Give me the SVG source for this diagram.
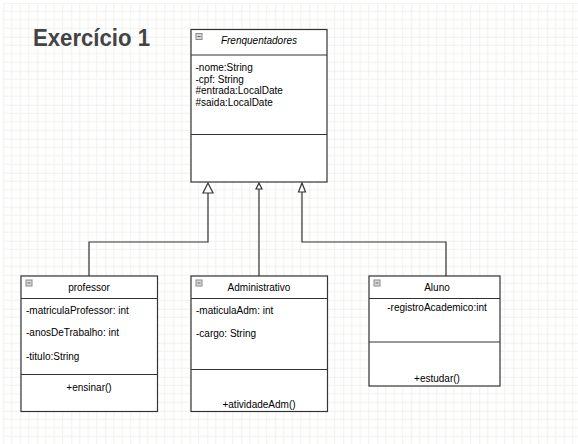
<svg xmlns="http://www.w3.org/2000/svg" width="578" height="444" viewBox="0 0 578 444">
<style>
.box{fill:#fff;stroke:#333;stroke-width:1.2}
.sep{stroke:#333;stroke-width:1.2}
.t{font-family:"Liberation Sans",Arial,sans-serif;font-size:10px;fill:#000}
.c{text-anchor:middle}
.edge{fill:none;stroke:#333;stroke-width:1.2}
.tri{fill:#fff;stroke:#333;stroke-width:1.2}
.ico{fill:#d9d9d9;stroke:#8a8a8a;stroke-width:1}
.icl{stroke:#666;stroke-width:1}
</style>
<defs>
<pattern id="grid" patternUnits="userSpaceOnUse" x="3.3" y="2.7" width="34" height="34">
<path d="M8.5 0V34M17 0V34M25.5 0V34M0 8.5H34M0 17H34M0 25.5H34" stroke="#f1f1ee" stroke-width="1" fill="none"/>
<path d="M0 0V34M0 0H34" stroke="#e2e2dd" stroke-width="1" fill="none"/>
</pattern>
</defs>
<rect x="0" y="0" width="578" height="444" fill="#fff"/>
<rect x="3" y="3" width="575" height="441" fill="url(#grid)"/>
<text x="33" y="46" font-family="Liberation Sans,Arial,sans-serif" font-weight="bold" font-size="24" fill="#444" textLength="117" lengthAdjust="spacingAndGlyphs">Exercício 1</text>

<g id="connectors">
<path class="edge" d="M89 276V242H208V193"/>
<polygon class="tri" points="208,183 203,193 213,193"/>
<path class="edge" d="M259 276V189"/>
<polygon class="tri" points="259,183 256,189 262,189"/>
<path class="edge" d="M446 276V242H302V192"/>
<polygon class="tri" points="302,183 298.5,192 305.5,192"/>
</g>

<g id="Frenquentadores">
<rect class="box" x="191" y="29.5" width="136" height="152.5"/>
<line class="sep" x1="191" y1="55" x2="327" y2="55"/>
<line class="sep" x1="191" y1="134.5" x2="327" y2="134.5"/>
<rect class="ico" x="196" y="33.5" width="6" height="6"/><line class="icl" x1="197.5" y1="36.5" x2="200.5" y2="36.5"/>
<text class="t c" x="259" y="44" font-style="italic">Frenquentadores</text>
<text class="t" x="195.5" y="71">-nome:String</text>
<text class="t" x="195.5" y="82.5">-cpf: String</text>
<text class="t" x="195.5" y="94">#entrada:LocalDate</text>
<text class="t" x="195.5" y="105.5">#saida:LocalDate</text>
</g>

<g id="professor">
<rect class="box" x="21" y="276" width="136.5" height="135.5"/>
<line class="sep" x1="21" y1="298.5" x2="157.5" y2="298.5"/>
<line class="sep" x1="21" y1="374.5" x2="157.5" y2="374.5"/>
<rect class="ico" x="26" y="280" width="6" height="6"/><line class="icl" x1="27.5" y1="283" x2="30.5" y2="283"/>
<text class="t c" x="89" y="291">professor</text>
<text class="t" x="26" y="313.5">-matriculaProfessor: int</text>
<text class="t" x="26" y="335.5">-anosDeTrabalho: int</text>
<text class="t" x="26" y="359.5">-titulo:String</text>
<text class="t c" x="89" y="391">+ensinar()</text>
</g>

<g id="Administrativo">
<rect class="box" x="191" y="276" width="136.5" height="135.5"/>
<line class="sep" x1="191" y1="298.5" x2="327.5" y2="298.5"/>
<line class="sep" x1="191" y1="369.5" x2="327.5" y2="369.5"/>
<rect class="ico" x="196" y="280" width="6" height="6"/><line class="icl" x1="197.5" y1="283" x2="200.5" y2="283"/>
<text class="t c" x="259" y="291">Administrativo</text>
<text class="t" x="196" y="313.5">-maticulaAdm: int</text>
<text class="t" x="196" y="337">-cargo: String</text>
<text class="t c" x="259" y="408">+atividadeAdm()</text>
</g>

<g id="Aluno">
<rect class="box" x="369" y="276" width="131" height="110"/>
<line class="sep" x1="369" y1="298.5" x2="500" y2="298.5"/>
<line class="sep" x1="369" y1="342" x2="500" y2="342"/>
<rect class="ico" x="374" y="280" width="6" height="6"/><line class="icl" x1="375.5" y1="283" x2="378.5" y2="283"/>
<text class="t c" x="437" y="291">Aluno</text>
<text class="t c" x="437" y="311">-registroAcademico:int</text>
<text class="t c" x="437" y="382">+estudar()</text>
</g>
</svg>
